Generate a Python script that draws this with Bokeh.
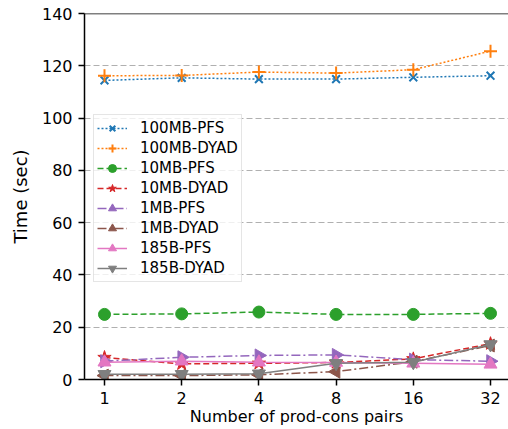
import math
from bokeh.plotting import figure
from bokeh.models import (Range1d, FixedTicker, Span, Legend, LegendItem)
from bokeh.embed import file_html
from bokeh.resources import INLINE

# ---- data ----
x_labels = ["1", "2", "4", "8", "16", "32"]
pfs_100mb = [114.4, 115.4, 114.9, 114.9, 115.6, 116.2]
dyad_100mb = [116.2, 116.3, 117.6, 117.2, 118.5, 125.6]
pfs_10mb = [24.9, 25.1, 25.8, 24.9, 24.9, 25.3]
dyad_10mb = [8.4, 6.0, 6.2, 6.5, 7.9, 13.7]
pfs_1mb = [7.0, 8.5, 9.2, 9.4, 7.6, 7.0]
dyad_1mb = [1.5, 1.5, 1.8, 3.0, 6.8, 13.0]
pfs_185b = [6.6, 7.0, 6.6, 6.5, 6.2, 5.8]
dyad_185b = [2.0, 2.0, 2.2, 6.2, 6.6, 13.4]

series_names = ["100MB-PFS", "100MB-DYAD", "10MB-PFS", "10MB-DYAD",
                "1MB-PFS", "1MB-DYAD", "185B-PFS", "185B-DYAD"]
series_values = [pfs_100mb, dyad_100mb, pfs_10mb, dyad_10mb,
                 pfs_1mb, dyad_1mb, pfs_185b, dyad_185b]
colors = ["#1f77b4", "#ff7f0e", "#2ca02c", "#d62728",
          "#9467bd", "#8c564b", "#e377c2", "#7f7f7f"]
dashes = ["2 2", "2 2", "6 3", "6 3", "9 3 2 3", "9 3 2 3", "solid", "solid"]
markers = ["x", "cross", "circle", "star", "triangle", "triangle", "triangle", "inverted_triangle"]
angles = [0, 0, 0, 0, -math.pi / 2, math.pi / 2, 0, 0]
sizes = [11, 13, 12, 14, 13, 13, 13, 13]

xs = list(range(len(x_labels)))
FONT = "DejaVu Sans"

p = figure(width=508, height=429, output_backend="svg", toolbar_location=None,
           x_range=Range1d(-0.259, 5.233), y_range=Range1d(0, 140),
           min_border_left=84, min_border_right=0, min_border_top=13, min_border_bottom=50)
p.outline_line_color = None
p.background_fill_color = "white"
p.border_fill_color = "white"

p.xgrid.visible = False
p.ygrid.grid_line_color = "#b0b0b0"
p.ygrid.grid_line_dash = "6 3"
p.ygrid.grid_line_width = 1

p.xaxis.ticker = FixedTicker(ticks=xs)
p.xaxis.major_label_overrides = {i: l for i, l in enumerate(x_labels)}
p.yaxis.ticker = FixedTicker(ticks=[0, 20, 40, 60, 80, 100, 120, 140])

for ax in (p.xaxis[0], p.yaxis[0]):
    ax.axis_line_color = "black"
    ax.axis_line_width = 1.5
    ax.major_tick_line_color = "black"
    ax.major_tick_line_width = 1.5
    ax.major_tick_out = 6
    ax.major_tick_in = 0
    ax.minor_tick_line_color = None
    ax.major_label_text_font = FONT
    ax.major_label_text_font_size = "16px"
    ax.major_label_text_color = "black"
    ax.axis_label_text_font = FONT
    ax.axis_label_text_font_style = "normal"
    ax.axis_label_text_color = "black"

p.xaxis.axis_label = "Number of prod-cons pairs"
p.xaxis.axis_label_text_font_size = "16px"
p.xaxis.major_label_standoff = 6
p.xaxis.axis_label_standoff = 0
p.yaxis.axis_label = "Time (sec)"
p.yaxis.axis_label_text_font_size = "18px"
p.yaxis.major_label_standoff = 6
p.yaxis.axis_label_standoff = 8

p.add_layout(Span(location=140, dimension="width", line_color="black", line_width=1.5))

items = []
for name, vals, c, d, m, a, s in zip(series_names, series_values, colors, dashes,
                                       markers, angles, sizes):
    lr = p.line(xs, vals, line_color=c, line_width=1.5, line_dash=d)
    if m in ("x", "cross"):
        sr = p.scatter(xs, vals, marker=m, size=s, line_color=c, line_width=2, fill_color=None)
    else:
        sr = p.scatter(xs, vals, marker=m, size=s, angle=a, line_color=c, fill_color=c, line_width=1)
    items.append(LegendItem(label=name, renderers=[lr, sr]))

legend = Legend(items=items, location=(9, 97),
                label_text_font=FONT, label_text_font_size="15px", label_text_color="black",
                glyph_width=30, glyph_height=20, label_height=19, spacing=0,
                padding=3, label_standoff=13, label_width=98, margin=0,
                border_line_color="#cccccc", border_line_width=1,
                background_fill_color="white", background_fill_alpha=0.8)
p.add_layout(legend, "center")

open("out.html", "w").write(file_html(p, INLINE))
